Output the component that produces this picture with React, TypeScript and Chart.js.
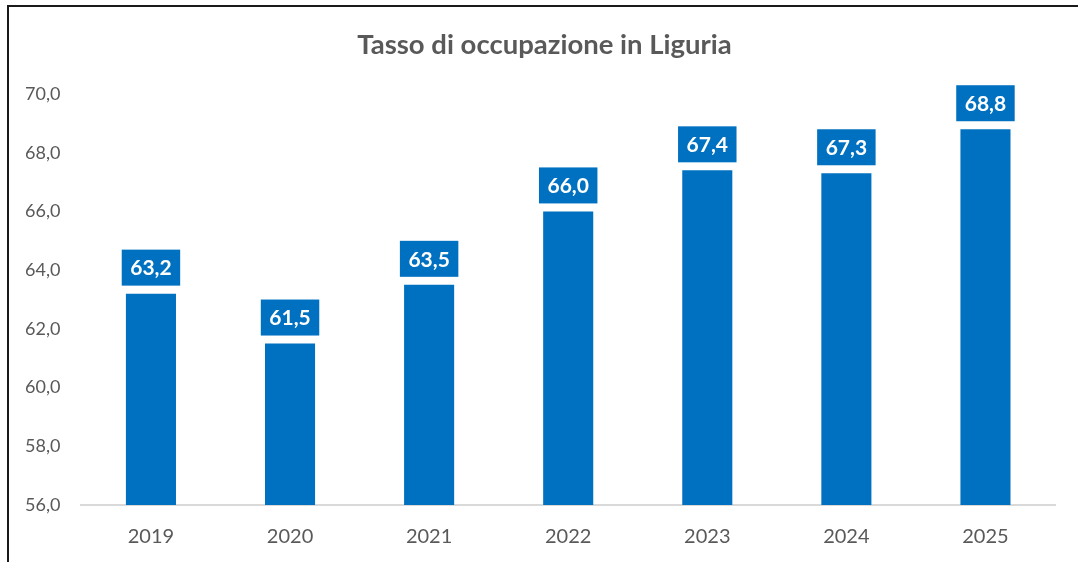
import React, { useEffect, useRef } from "react";
import { Chart, registerables } from "chart.js";

Chart.register(...registerables);

const TITLE = "Tasso di occupazione in Liguria";
const YEARS = ["2019", "2020", "2021", "2022", "2023", "2024", "2025"];
const VALUES = [63.2, 61.5, 63.5, 66.0, 67.4, 67.3, 68.8];
const Y_MIN = 56;
const Y_MAX = 70;
const Y_STEP = 2;

const BLUE = "#0070C0";
const GRAY_TEXT = "#595959";
const FONT = "Lato, 'Open Sans', sans-serif";

const fmt = (v: number) => v.toFixed(1).replace(".", ",");

const labelPlugin = {
  id: "boxLabels",
  afterDatasetsDraw(chart: any) {
    const ctx = chart.ctx;
    const meta = chart.getDatasetMeta(0);
    ctx.save();
    ctx.font = `bold 21px ${FONT}`;
    ctx.textAlign = "center";
    ctx.textBaseline = "middle";
    meta.data.forEach((el: any, i: number) => {
      const text = fmt(VALUES[i]);
      const w = ctx.measureText(text).width + 17;
      const h = 36;
      const bottom = el.y - 8;
      ctx.fillStyle = BLUE;
      ctx.fillRect(el.x - w / 2, bottom - h, w, h);
      ctx.fillStyle = "#FFFFFF";
      ctx.fillText(text, el.x, bottom - h / 2 + 1);
    });
    ctx.restore();
  },
};

const titleFramePlugin = {
  id: "titleFrame",
  afterDraw(chart: any) {
    const ctx = chart.ctx;
    ctx.save();
    ctx.font = `bold 27.5px ${FONT}`;
    ctx.fillStyle = GRAY_TEXT;
    ctx.textAlign = "center";
    ctx.textBaseline = "alphabetic";
    ctx.fillText(TITLE, 544.5, 54);
    ctx.fillStyle = "#1a1a1a";
    ctx.fillRect(7, 5, chart.width, 2);
    ctx.fillRect(7, 5, 2, chart.height);
    ctx.restore();
  },
};

export default function App() {
  const ref = useRef<HTMLCanvasElement | null>(null);
  useEffect(() => {
    if (!ref.current) return;
    const chart = new Chart(ref.current, {
      type: "bar",
      data: {
        labels: YEARS,
        datasets: [
          {
            data: VALUES,
            backgroundColor: BLUE,
            categoryPercentage: 1,
            barPercentage: 0.36,
          },
        ],
      },
      options: {
        animation: false,
        responsive: false,
        maintainAspectRatio: false,
        layout: { padding: { left: 4, right: 23, top: 94, bottom: -7 } },
        plugins: {
          legend: { display: false },
          tooltip: { enabled: false },
          title: { display: false },
        },
        scales: {
          x: {
            grid: { display: false, drawTicks: false },
            border: { display: true, color: "#D9D9D9", width: 2 },
            ticks: {
              color: GRAY_TEXT,
              font: { family: FONT, size: 20, lineHeight: 1 },
              padding: 22,
            },
          },
          y: {
            min: Y_MIN,
            max: Y_MAX,
            grid: { display: false, drawTicks: false },
            border: { display: false },
            ticks: {
              stepSize: Y_STEP,
              color: GRAY_TEXT,
              font: { family: FONT, size: 18 },
              padding: 21,
              callback: (v: any) => fmt(Number(v)),
            },
          },
        },
      },
      plugins: [labelPlugin, titleFramePlugin],
    });
    return () => chart.destroy();
  }, []);
  return (
    <div style={{ position: "fixed", left: 0, top: 0, width: 1078, height: 562, background: "#fff" }}>
      <canvas ref={ref} width={1078} height={562} style={{ display: "block" }} />
    </div>
  );
}
